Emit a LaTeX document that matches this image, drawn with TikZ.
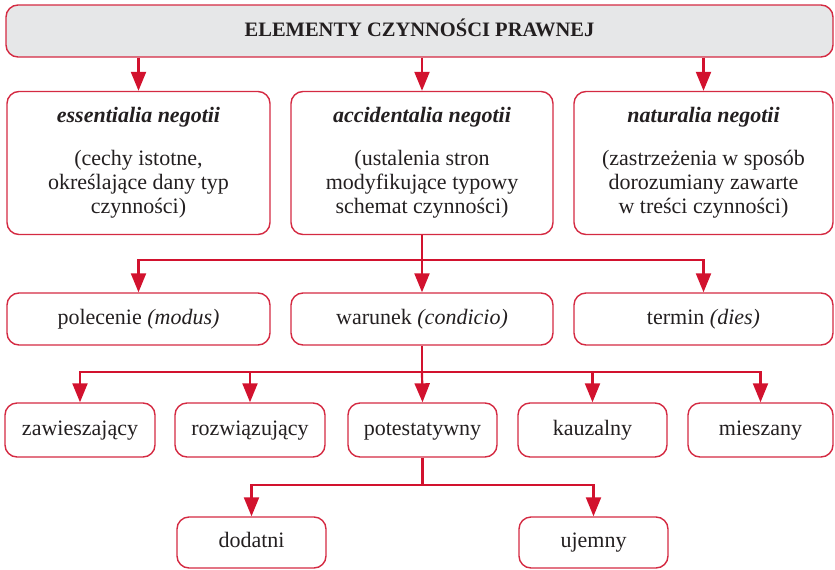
\documentclass[tikz,border=0pt]{standalone}
\usepackage{fontspec}
\setmainfont{Liberation Serif}
\usetikzlibrary{arrows.meta}
\definecolor{cred}{HTML}{D2122E}
\definecolor{bred}{HTML}{D42A42}
\definecolor{tgray}{HTML}{E6E7E8}
\definecolor{txt}{HTML}{231F20}
\begin{document}
\begin{tikzpicture}[x=1pt,y=-1pt,
  box/.style={draw=bred,line width=1.4pt,rounded corners=12pt,inner sep=0pt,align=center,text=txt,font=\fontsize{22}{24}\selectfont},
  one/.style={box,text height=15pt,text depth=5pt},
  conn/.style={draw=cred,line width=2.2pt},
  arr/.style={conn,-{Triangle[width=15pt,length=19pt]}}]
\useasboundingbox (0,0) rectangle (835,570);
% top
\node[one,fill=tgray,minimum width=827pt,minimum height=52pt,font=\fontsize{20.5}{24}\selectfont\bfseries] (top) at (419.5,31) {ELEMENTY CZYNNOŚCI PRAWNEJ};
% level 2
\node[box,minimum width=263pt,minimum height=143pt] (ess) at (138.5,163) {\textbf{\textit{essentialia negotii}}\\[19pt](cechy istotne,\\określające dany typ\\czynności)};
\node[box,minimum width=262pt,minimum height=143pt] (acc) at (422,163) {\textbf{\textit{accidentalia negotii}}\\[19pt](ustalenia stron\\modyfikujące typowy\\schemat czynności)};
\node[box,minimum width=259pt,minimum height=143pt] (nat) at (703.5,163) {\textbf{\textit{naturalia negotii}}\\[19pt](zastrzeżenia w sposób\\dorozumiany zawarte\\w treści czynności)};
% level 3
\node[one,minimum width=263pt,minimum height=52pt] (pol) at (138.5,319) {polecenie \textit{(modus)}};
\node[one,minimum width=262pt,minimum height=52pt] (war) at (422,319) {warunek \textit{(condicio)}};
\node[one,minimum width=259pt,minimum height=52pt] (ter) at (703.5,319) {termin \textit{(dies)}};
% level 4
\node[one,minimum width=150pt,minimum height=54pt] (zaw) at (80,430) {zawieszający};
\node[one,minimum width=150pt,minimum height=54pt] (roz) at (250,430) {rozwiązujący};
\node[one,minimum width=149pt,minimum height=54pt] (pot) at (422.5,430) {potestatywny};
\node[one,minimum width=149pt,minimum height=54pt] (kau) at (592.5,430) {kauzalny};
\node[one,minimum width=145pt,minimum height=54pt] (mie) at (760.5,430) {mieszany};
% level 5
\node[one,minimum width=149pt,minimum height=51pt] (dod) at (251.5,542.5) {dodatni};
\node[one,minimum width=149pt,minimum height=51pt] (uje) at (593.5,542.5) {ujemny};
% connectors top -> level 2
\draw[arr] (top.south -| ess.north) -- (ess.north);
\draw[arr] (top.south -| acc.north) -- (acc.north);
\draw[arr] (top.south -| nat.north) -- (nat.north);
% acc -> level 3
\coordinate (j1) at (422,260);
\draw[conn] (acc.south) -- (j1);
\draw[arr] (j1) -| (pol.north);
\draw[arr] (j1) -| (ter.north);
\draw[arr] (j1) -- (war.north);
% war -> level 4
\coordinate (j2) at (422,372);
\draw[conn] (war.south) -- (j2);
\draw[arr] (j2) -| (zaw.north);
\draw[arr] (j2) -| (roz.north);
\draw[arr] (j2) -- (pot.north);
\draw[arr] (j2) -| (kau.north);
\draw[arr] (j2) -| (mie.north);
% pot -> level 5
\coordinate (j3) at (422.5,485);
\draw[conn] (pot.south) -- (j3);
\draw[arr] (j3) -| (dod.north);
\draw[arr] (j3) -| (uje.north);
\end{tikzpicture}
\end{document}
